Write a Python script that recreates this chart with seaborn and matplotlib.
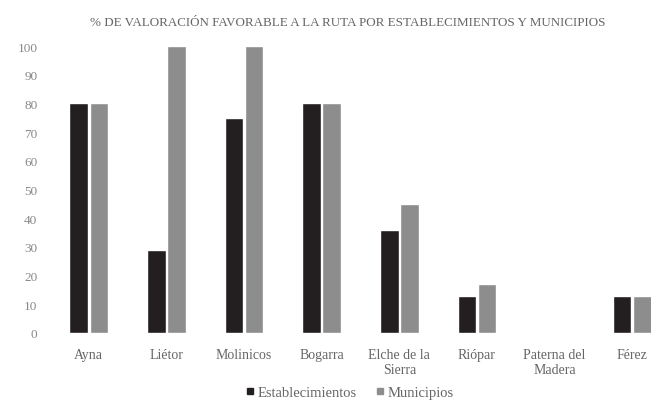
import matplotlib
matplotlib.use("Agg")
import matplotlib.pyplot as plt
from matplotlib.lines import Line2D
import seaborn as sns
import pandas as pd

categories = ["Ayna", "Liétor", "Molinicos", "Bogarra", "Elche de la\nSierra",
              "Riópar", "Paterna del\nMadera", "Férez"]
establecimientos = [80, 29, 75, 80, 36, 13, 0, 13]
municipios = [80, 100, 100, 80, 45, 17, 0, 13]
series_names = ["Establecimientos", "Municipios"]
title = "% DE VALORACIÓN FAVORABLE A LA RUTA POR ESTABLECIMIENTOS Y MUNICIPIOS"
yticks = list(range(0, 101, 10))
colors = ["#231f20", "#8d8d8d"]

df = pd.DataFrame({
    "cat": categories * 2,
    "val": establecimientos + municipios,
    "serie": [series_names[0]] * len(categories) + [series_names[1]] * len(categories),
})

sns.set_theme(style="white")
plt.rcParams["font.family"] = ["Liberation Serif", "DejaVu Serif"]

fig = plt.figure(figsize=(6.51, 4.06), dpi=100)
ax = fig.add_axes([50 / 651, 72 / 406, 621 / 651, 287 / 406])

sns.barplot(data=df, x="cat", y="val", hue="serie", order=categories,
            hue_order=series_names, palette=colors,
            width=0.52, gap=0.08, ax=ax, legend=False, saturation=1)

ax.set_ylim(0, 100)
ax.set_xlim(-0.5, len(categories) - 0.5)
ax.set_yticks(yticks)
ax.set_yticklabels([str(t) for t in yticks], fontsize=9.5, color="#888888")
ax.tick_params(axis="x", labelsize=10, colors="#666666", length=0, pad=11)
ax.tick_params(axis="y", length=0, pad=9)
ax.set_xlabel("")
ax.set_ylabel("")
for s in ax.spines.values():
    s.set_visible(False)

fig.text(348 / 651, 1 - 23 / 406, title, ha="center", va="center",
         fontsize=9.4, color="#666666")

handles = [Line2D([], [], marker="s", linestyle="", color=c, markersize=5)
           for c in colors]
fig.legend(handles, series_names, loc="center", bbox_to_anchor=(350 / 651, 13 / 406),
           ncol=2, frameon=False, fontsize=10.5, labelcolor="#666666",
           handlelength=0.5, handletextpad=0.3, columnspacing=1.3)

fig.savefig("out.png", dpi=100)
